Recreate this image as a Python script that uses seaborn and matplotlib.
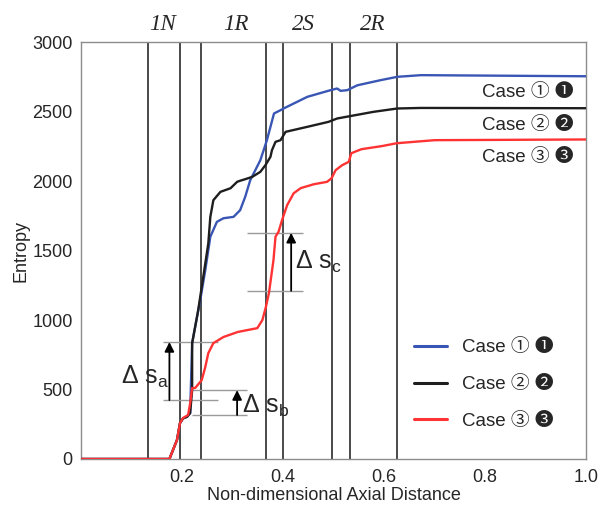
import numpy as np
import pandas as pd
import matplotlib
matplotlib.use("Agg")
import matplotlib.pyplot as plt
import seaborn as sns

# ---------------- data ----------------
case1_x = [0, 0.175, 0.19, 0.196, 0.202, 0.21, 0.216, 0.22, 0.236, 0.246, 0.256, 0.269, 0.282,
           0.302, 0.315, 0.325, 0.335, 0.345, 0.355, 0.368, 0.382, 0.395, 0.401, 0.448, 0.494,
           0.507, 0.514, 0.527, 0.547, 0.593, 0.626, 0.673, 1.0]
case1_y = [0, 0, 137, 259, 292, 304, 330, 834, 1144, 1360, 1600, 1707, 1733,
           1743, 1791, 1887, 2007, 2079, 2151, 2295, 2487, 2511, 2523, 2607, 2655,
           2667, 2650, 2655, 2690, 2727, 2751, 2763, 2755]

case2_x = [0, 0.175, 0.19, 0.196, 0.202, 0.21, 0.216, 0.22, 0.22, 0.232, 0.242, 0.252, 0.256,
           0.262, 0.276, 0.296, 0.309, 0.315, 0.325, 0.339, 0.355, 0.365, 0.375, 0.378, 0.385,
           0.395, 0.405, 0.448, 0.49, 0.507, 0.579, 0.626, 0.673, 1.0]
case2_y = [0, 0, 137, 259, 292, 304, 330, 496, 834, 1072, 1311, 1552, 1743,
           1863, 1923, 1949, 1995, 2003, 2014, 2031, 2067, 2115, 2175, 2223, 2283,
           2295, 2355, 2391, 2427, 2451, 2499, 2523, 2527, 2525]

case3_x = [0, 0.175, 0.19, 0.196, 0.202, 0.212, 0.216, 0.22, 0.226, 0.239, 0.246, 0.252, 0.262,
           0.282, 0.31, 0.349, 0.359, 0.366, 0.372, 0.381, 0.385, 0.391, 0.398, 0.408, 0.421,
           0.435, 0.461, 0.487, 0.496, 0.504, 0.517, 0.53, 0.535, 0.555, 0.595, 0.625, 0.7, 1.0]
case3_y = [0, 0, 137, 259, 295, 317, 400, 511, 511, 568, 662, 762, 834,
           878, 914, 942, 1000, 1095, 1194, 1432, 1600, 1635, 1720, 1827, 1913,
           1950, 1978, 1995, 2021, 2079, 2115, 2139, 2201, 2230, 2252, 2273, 2295, 2300]

case_names = ["Case ① ❶", "Case ② ❷", "Case ③ ❸"]
case_colors = ["#3a56b4", "#1e1e1e", "#ff3333"]

stage_lines = [0.133, 0.196, 0.238, 0.367, 0.399, 0.496, 0.532, 0.625]
stage_labels = ["1N", "1R", "2S", "2R"]
stage_label_x = [0.162, 0.307, 0.44, 0.578]

end_label_y = [2640, 2402, 2172]

# entropy jumps
delta_low = [424, 317, 1211]
delta_high = [842, 496, 1628]
delta_x0 = [0.163, 0.22, 0.329]
delta_x1 = [0.272, 0.329, 0.44]
delta_arrow_x = [0.175, 0.309, 0.416]
delta_names = ["a", "b", "c"]
delta_text_x = [0.127, 0.365, 0.47]
delta_text_y = [590, 380, 1420]

xticks = [0.2, 0.4, 0.6, 0.8, 1.0]
yticks = [0, 500, 1000, 1500, 2000, 2500, 3000]

# ---------------- frame ----------------
frames = []
for name, xs, ys in zip(case_names, [case1_x, case2_x, case3_x], [case1_y, case2_y, case3_y]):
    frames.append(pd.DataFrame({"x": xs, "y": ys, "case": name}))
df = pd.concat(frames, ignore_index=True)

sns.set_theme(style="white")
plt.rcParams["font.family"] = ["Liberation Sans", "Noto Sans CJK JP", "DejaVu Sans"]
plt.rcParams["mathtext.fontset"] = "custom"
plt.rcParams["mathtext.rm"] = "Liberation Sans"
plt.rcParams["mathtext.it"] = "Liberation Sans"

fig = plt.figure(figsize=(6, 5.07), dpi=100)
ax = fig.add_axes([0.135, 0.0947, 0.842, 0.822])

for xv in stage_lines:
    ax.axvline(xv, color="#3c3c3c", lw=1.3, zorder=1)

sns.lineplot(data=df, x="x", y="y", hue="case", palette=case_colors,
             estimator=None, sort=False, units="case", lw=1.7, ax=ax, zorder=3)

for lo, hi, x0, x1, xa, nm, tx, ty in zip(delta_low, delta_high, delta_x0, delta_x1,
                                          delta_arrow_x, delta_names, delta_text_x, delta_text_y):
    ax.hlines([lo, hi], x0, x1, color="#9a9a9a", lw=1.0, zorder=2)
    ax.annotate("", xy=(xa, hi), xytext=(xa, lo),
                arrowprops=dict(arrowstyle="-|>", color="black", lw=1.3,
                                mutation_scale=14, shrinkA=0, shrinkB=0), zorder=4)
    ax.text(tx, ty, r"$\Delta\ \mathrm{s}_{\mathrm{" + nm + "}}$", fontsize=18,
            ha="center", va="center", zorder=5)

for lab, yv in zip(case_names, end_label_y):
    ax.text(0.976, yv, lab, fontsize=13.5, ha="right", va="center", zorder=5)

trans = matplotlib.transforms.blended_transform_factory(ax.transData, ax.transAxes)
for lab, xv in zip(stage_labels, stage_label_x):
    ax.text(xv, 1.043, lab, transform=trans, fontsize=16.5, ha="center", va="center",
            family="Liberation Serif", style="italic")

ax.set_xlim(0, 1.0)
ax.set_ylim(0, 3000)
ax.set_xticks(xticks)
ax.set_xticklabels(["0.2", "0.4", "0.6", "0.8", "1.0"])
ax.set_yticks(yticks)
ax.tick_params(axis="x", direction="in", length=4, width=0.8, color="#888888",
               labelsize=13, pad=7)
ax.tick_params(axis="y", direction="out", length=4, width=0.8, color="#888888",
               labelsize=13, pad=2)
ax.set_xlabel("Non-dimensional Axial Distance", fontsize=13, labelpad=1)
ax.set_ylabel("Entropy", fontsize=13, labelpad=2)
for sp in ax.spines.values():
    sp.set_color("#8c8c8c")
    sp.set_linewidth(1.0)

handles, labels = ax.get_legend_handles_labels()
leg = ax.legend(handles, labels, loc="upper left", bbox_to_anchor=(0.64, 0.31),
                frameon=False, fontsize=13.5, borderpad=0, labelspacing=1.05,
                handlelength=1.8, handletextpad=0.75)
for lh in leg.get_lines():
    lh.set_linewidth(2.2)

fig.savefig("out.png", dpi=100)
